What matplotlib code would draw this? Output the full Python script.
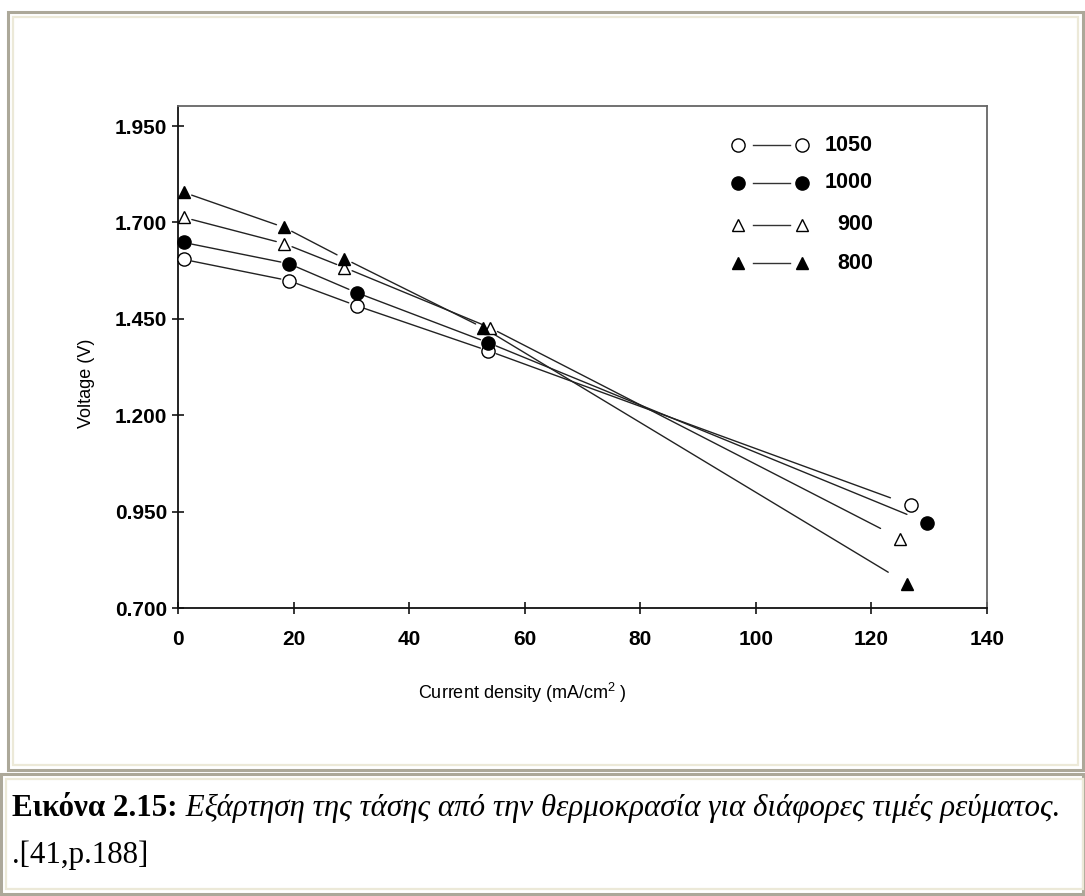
import matplotlib
matplotlib.use("Agg")
import matplotlib.pyplot as plt
from matplotlib.patches import Rectangle
from matplotlib.lines import Line2D

# ---------------- data ----------------
series_labels = ["1050", "1000", "900", "800"]
current_1050 = [1.0, 19.2, 30.9, 53.7, 126.9]
voltage_1050 = [1.604, 1.549, 1.484, 1.367, 0.966]
current_1000 = [1.0, 19.2, 30.9, 53.7, 129.7]
voltage_1000 = [1.648, 1.593, 1.518, 1.388, 0.921]
current_900 = [1.0, 18.4, 28.8, 54.0, 125.0]
voltage_900 = [1.713, 1.645, 1.583, 1.427, 0.880]
current_800 = [1.0, 18.4, 28.8, 52.8, 126.2]
voltage_800 = [1.778, 1.687, 1.606, 1.427, 0.763]
x_ticks = [0, 20, 40, 60, 80, 100, 120, 140]
y_ticks = [0.700, 0.950, 1.200, 1.450, 1.700, 1.950]
y_tick_labels = ["0.700", "0.950", "1.200", "1.450", "1.700", "1.950"]
caption_bold = "Εικόνα 2.15:"
caption_italic = " Εξάρτηση της τάσης από την θερμοκρασία για διάφορες τιμές ρεύματος."
caption_line2 = ".[41,p.188]"

series = [
    (current_1050, voltage_1050, dict(marker="o", mfc="white", mec="black", ms=9.5, mew=1.0)),
    (current_1000, voltage_1000, dict(marker="o", mfc="black", mec="black", ms=9.5, mew=1.0)),
    (current_900, voltage_900, dict(marker="^", mfc="white", mec="black", ms=9, mew=1.0)),
    (current_800, voltage_800, dict(marker="^", mfc="black", mec="black", ms=9, mew=1.0)),
]

W, H = 1085, 896
fig = plt.figure(figsize=(W / 100, H / 100), dpi=100)
fig.patch.set_facecolor("white")

def px_rect(x0, y0, x1, y1, color, lw):
    fig.patches.append(Rectangle((x0 / W, 1 - y1 / H), (x1 - x0) / W, (y1 - y0) / H,
                                 transform=fig.transFigure, fill=False,
                                 edgecolor=color, linewidth=lw, zorder=0))

GRAY = "#aca899"
CREAM = "#ece9d8"
# upper frame (chart)
px_rect(8, 12, 1083, 770, GRAY, 2.2)
px_rect(13, 17, 1078, 765, CREAM, 1.6)
# lower frame (caption)
px_rect(1, 774, 1083, 894, GRAY, 2.2)
px_rect(6, 779, 1083, 889, CREAM, 1.6)

# ---------------- axes ----------------
ax_l, ax_r, ax_t, ax_b = 178, 987, 106, 608
ax = fig.add_axes([ax_l / W, 1 - ax_b / H, (ax_r - ax_l) / W, (ax_b - ax_t) / H])
ax.set_xlim(0, 139.1)
ax.set_ylim(0.700, 2.002)

for xs, ys, st in series:
    for i in range(len(xs) - 1):
        shrink_end = 16 if i == len(xs) - 2 else 6
        ax.annotate("", xy=(xs[i + 1], ys[i + 1]), xytext=(xs[i], ys[i]),
                    arrowprops=dict(arrowstyle="-", color="#222222", lw=1.0,
                                    shrinkA=6, shrinkB=shrink_end),
                    zorder=2)
    ax.plot(xs, ys, linestyle="none", zorder=3, clip_on=False, **st)

ax.set_xticks(x_ticks)
ax.set_xticklabels([str(v) for v in x_ticks])
ax.set_yticks(y_ticks)
ax.set_yticklabels(y_tick_labels)
ax.tick_params(axis="both", direction="inout", length=8, width=1.1, colors="black",
               labelsize=15)
ax.tick_params(axis="x", pad=12)
ax.tick_params(axis="y", pad=4)
for lab in ax.get_xticklabels() + ax.get_yticklabels():
    lab.set_fontweight("bold")
    lab.set_fontfamily("Liberation Sans")

for side in ["left", "bottom"]:
    ax.spines[side].set_linewidth(1.3)
    ax.spines[side].set_color("#111111")
for side in ["top", "right"]:
    ax.spines[side].set_linewidth(1.3)
    ax.spines[side].set_color("#666666")

ax.set_xlabel(r"Current density (mA/cm$^{\mathregular{2}}$ )", fontsize=13,
              fontfamily="Liberation Sans")
ax.xaxis.set_label_coords(0.425, -0.145)
ax.set_ylabel("Voltage (V)", fontsize=13, fontfamily="Liberation Sans")
ax.yaxis.set_label_coords(-0.103, 0.448)

# ---------------- legend (drawn manually) ----------------
leg_rows = [0.922, 0.847, 0.763, 0.687]
for (xs, ys, st), lab, yr in zip(series, series_labels, leg_rows):
    ax.add_line(Line2D([0.711, 0.756], [yr, yr], transform=ax.transAxes,
                       color="#333333", lw=1.0))
    ax.add_line(Line2D([0.692, 0.771], [yr, yr], transform=ax.transAxes,
                       linestyle="none", **st))
    ax.text(0.859, yr, lab, transform=ax.transAxes, ha="right", va="center",
            fontsize=15.5, fontweight="bold", fontfamily="Liberation Sans")

# ---------------- caption ----------------
renderer = fig.canvas.get_renderer()
cap_fs = 22.3
t1 = fig.text(12 / W, 1 - 816 / H, caption_bold, fontsize=cap_fs, fontweight="bold",
              fontfamily="Liberation Serif", va="baseline", ha="left")
bb = t1.get_window_extent(renderer=renderer)
fig.text(bb.x1 / W, 1 - 816 / H, caption_italic, fontsize=cap_fs, fontstyle="italic",
         fontfamily="Liberation Serif", va="baseline", ha="left")
fig.text(12 / W, 1 - 863 / H, caption_line2, fontsize=cap_fs,
         fontfamily="Liberation Serif", va="baseline", ha="left")

fig.savefig("out.png", dpi=100, facecolor="white")
